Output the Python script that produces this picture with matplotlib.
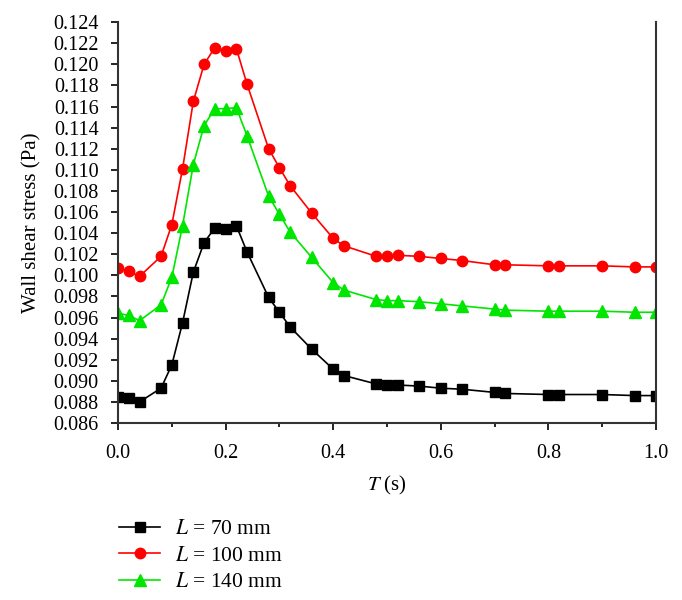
import matplotlib
matplotlib.use("Agg")
import matplotlib.pyplot as plt
from matplotlib.ticker import MultipleLocator, FormatStrFormatter

plt.rcParams['font.family'] = ['Liberation Serif', 'DejaVu Serif']
plt.rcParams['mathtext.fontset'] = 'stix'

# time points (s)
t = [0.00, 0.02, 0.04, 0.08, 0.10, 0.12, 0.14, 0.16, 0.18, 0.20, 0.22, 0.24,
     0.28, 0.30, 0.32, 0.36, 0.40, 0.42, 0.48, 0.50, 0.52, 0.56, 0.60, 0.64,
     0.70, 0.72, 0.80, 0.82, 0.90, 0.96, 1.00]

# wall shear stress (Pa)
wss_70 = [0.0885, 0.0884, 0.0880, 0.0893, 0.0915, 0.0955, 0.1003, 0.1031, 0.1045, 0.1044, 0.1047, 0.1022,
          0.0979, 0.0965, 0.0951, 0.0930, 0.0911, 0.0905, 0.0897, 0.0896, 0.0896, 0.0895, 0.0893, 0.0892,
          0.0889, 0.0888, 0.0887, 0.0887, 0.0887, 0.0886, 0.0886]
wss_100 = [0.1007, 0.1004, 0.0999, 0.1018, 0.1048, 0.1101, 0.1165, 0.1200, 0.1216, 0.1213, 0.1215, 0.1181,
           0.1120, 0.1102, 0.1085, 0.1059, 0.1035, 0.1028, 0.1018, 0.1018, 0.1019, 0.1018, 0.1016, 0.1014,
           0.1010, 0.1010, 0.1009, 0.1009, 0.1009, 0.1008, 0.1008]
wss_140 = [0.0964, 0.0962, 0.0957, 0.0972, 0.0998, 0.1047, 0.1105, 0.1142, 0.1158, 0.1158, 0.1159, 0.1132,
           0.1075, 0.1058, 0.1041, 0.1017, 0.0993, 0.0986, 0.0977, 0.0976, 0.0976, 0.0975, 0.0973, 0.0971,
           0.0968, 0.0967, 0.0966, 0.0966, 0.0966, 0.0965, 0.0965]

fig = plt.figure(figsize=(6.82, 6.0), dpi=100)
ax = fig.add_axes([0.173, 0.295, 0.789, 0.668])

l1, = ax.plot(t, wss_70, '-s', color='black', markersize=6.5, linewidth=1.2, label=r'$L$ = 70 mm')
l2, = ax.plot(t, wss_100, '-o', color='#ff0000', markersize=7.5, linewidth=1.2, label=r'$L$ = 100 mm')
l3, = ax.plot(t, wss_140, '-^', color='#00e600', markersize=8, linewidth=1.2, label=r'$L$ = 140 mm')

ax.set_xlim(0, 1.0)
ax.set_ylim(0.086, 0.124)
ax.xaxis.set_major_locator(MultipleLocator(0.2))
ax.xaxis.set_minor_locator(MultipleLocator(0.1))
ax.yaxis.set_major_locator(MultipleLocator(0.002))
ax.xaxis.set_major_formatter(FormatStrFormatter('%.1f'))
ax.yaxis.set_major_formatter(FormatStrFormatter('%.3f'))
ax.tick_params(axis='both', which='major', direction='out', length=5, width=1.2, labelsize=14.5)
ax.tick_params(axis='y', which='major', pad=9)
ax.tick_params(axis='x', which='major', pad=10)
ax.tick_params(axis='x', which='minor', direction='out', length=3, width=1.2)
ax.tick_params(right=False, top=False)

ax.spines['top'].set_visible(False)
for s in ['left', 'bottom', 'right']:
    ax.spines[s].set_linewidth(1.5)
    ax.spines[s].set_color('#333333')

ax.set_xlabel(r'$T$ (s)', fontsize=15, labelpad=8)
ax.set_ylabel('Wall shear stress (Pa)', fontsize=15, labelpad=8)

fig.legend(handles=[l1, l2, l3], loc='upper left', bbox_to_anchor=(0.175, 0.135),
           frameon=False, fontsize=15.5, handlelength=1.9, handletextpad=0.7,
           labelspacing=0.3, borderaxespad=0, borderpad=0)

fig.savefig('out.png', dpi=100)
